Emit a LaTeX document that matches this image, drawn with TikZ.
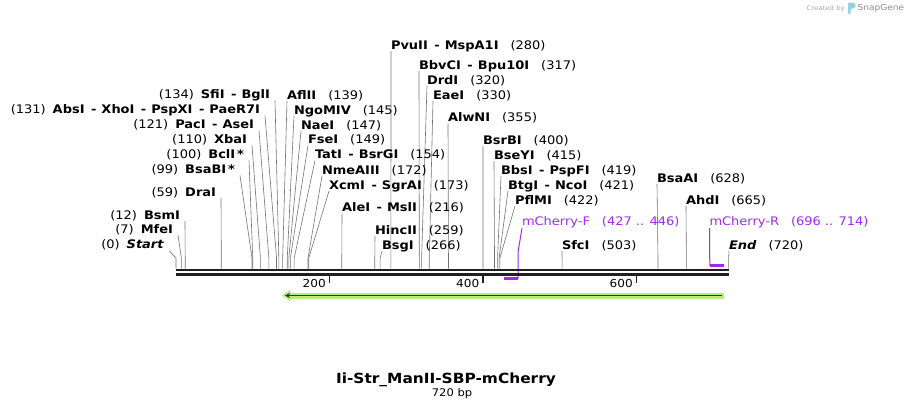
\documentclass[tikz,border=0pt]{standalone}
\usepackage{fontspec}
\setmainfont{DejaVu Sans}[FakeStretch=1.1]
\usetikzlibrary{arrows.meta,calc}
\definecolor{prim}{RGB}{160,40,240}
\definecolor{featgreen}{RGB}{180,238,125}
\definecolor{logoblue}{RGB}{150,205,225}
\newcommand\B[1]{\textbf{#1}}
\newcommand\dsh{\hspace{6.5pt}\textbf{-}\hspace{5pt}}
\newcommand\gr{\hspace{12pt}}
\newcommand\gl{\hspace{7pt}}
\newcommand\rsite[5]{%
  \node[lab,anchor=base west] (#1) at (#3,#4) {#5};
  \coordinate (#1k) at ({176+0.7675*#2},258);
  \coordinate (#1b) at ({176+0.7675*#2},268.6);
  \draw[cn] ([yshift=-2pt]#1.base west) -- (#1k) -- (#1b);
}
\newcommand\lsite[5]{%
  \node[lab,anchor=base east] (#1) at (#3,#4) {#5};
  \coordinate (#1k) at ({176+0.7675*#2},258);
  \coordinate (#1b) at ({176+0.7675*#2},268.6);
  \draw[cn] ([xshift=5pt,yshift=-2pt]#1.base east) -- (#1k) -- (#1b);
}
\begin{document}
\begin{tikzpicture}[x=1pt,y=-1pt,
  lab/.style={inner sep=0pt,outer sep=0pt,font=\fontsize{11.8}{13}\selectfont,text=black},
  cn/.style={draw=black!55,line width=0.6pt},
  bb/.style={draw=black!88,line width=2.4pt},
  tickmark/.style={draw=black!88,line width=1.8pt},
  primline/.style={draw=prim,line width=1pt},
  primbar/.style={draw=prim,line width=2.2pt}]
\useasboundingbox (0,0) rectangle (906,408);

% right-hand labels
\rsite{pvu}{280}{391}{49}{\B{PvuII}\dsh\B{MspA1I}\gr(280)}
\rsite{bbv}{317}{419}{69}{\B{BbvCI}\dsh\B{Bpu10I}\gr(317)}
\rsite{drd}{320}{427}{84}{\B{DrdI}\gr(320)}
\rsite{eae}{330}{433}{99}{\B{EaeI}\gr(330)}
\rsite{afl}{139}{287}{99}{\B{AflII}\gr(139)}
\rsite{ngo}{145}{294}{114}{\B{NgoMIV}\gr(145)}
\rsite{alw}{355}{448}{121.5}{\B{AlwNI}\gr(355)}
\rsite{nae}{147}{301}{129}{\B{NaeI}\gr(147)}
\rsite{fse}{149}{308}{143.5}{\B{FseI}\gr(149)}
\rsite{bsrb}{400}{483}{144}{\B{BsrBI}\gr(400)}
\rsite{tat}{154}{315}{158.5}{\B{TatI}\dsh\B{BsrGI}\gr(154)}
\rsite{bsey}{415}{494}{159}{\B{BseYI}\gr(415)}
\rsite{nme}{172}{322}{174}{\B{NmeAIII}\gr(172)}
\rsite{bbs}{419}{501}{174}{\B{BbsI}\dsh\B{PspFI}\gr(419)}
\rsite{xcm}{173}{329}{189}{\B{XcmI}\dsh\B{SgrAI}\gr(173)}
\rsite{btg}{421}{508}{189}{\B{BtgI}\dsh\B{NcoI}\gr(421)}
\rsite{bsaa}{628}{657}{182}{\B{BsaAI}\gr(628)}
\rsite{pfl}{422}{515}{204}{\B{PflMI}\gr(422)}
\rsite{ahd}{665}{686}{204}{\B{AhdI}\gr(665)}
\rsite{ale}{216}{342}{211.5}{\B{AleI}\dsh\B{MslI}\gr(216)}
\rsite{hinc}{259}{375}{234}{\B{HincII}\gr(259)}
\rsite{bsg}{266}{382}{249}{\B{BsgI}\gr(266)}
\rsite{sfc}{503}{562}{249}{\B{SfcI}\gr(503)}
\rsite{endl}{720}{729}{249}{\textbf{\textit{End}}\gr(720)}

% left-hand labels
\lsite{sfi}{134}{270}{98.5}{(134)\gl\B{SfiI}\dsh\B{BglI}}
\lsite{abs}{131}{260}{113.5}{(131)\gl\B{AbsI}\dsh\B{XhoI}\dsh\B{PspXI}\dsh\B{PaeR7I}}
\lsite{pac}{121}{254}{128.5}{(121)\gl\B{PacI}\dsh\B{AseI}}
\lsite{xba}{110}{247}{143.5}{(110)\gl\B{XbaI}}
\lsite{bcl}{100}{244}{158.5}{(100)\gl\B{BclI\,*}}
\lsite{bsab}{99}{235}{173.5}{(99)\gl\B{BsaBI\,*}}
\lsite{dra}{59}{216}{196}{(59)\gl\B{DraI}}
\lsite{bsm}{12}{180}{219}{(12)\gl\B{BsmI}}
\lsite{mfe}{7}{173}{233}{(7)\gl\B{MfeI}}
\lsite{start}{0}{164}{248.5}{(0)\gl\textbf{\textit{Start}}}

% primers
\node[lab,anchor=base west,text=prim] (mchf) at (522,225) {mCherry-F\gr(427 .. 446)};
\coordinate (mchfk) at (518.2,251);
\coordinate (mchfb) at (518.2,278.5);
\coordinate (mchfa) at (503.7,278.5);
\draw[primline] ([yshift=-3pt]mchf.base west) -- (mchfk) -- (mchfb);
\draw[primbar] (mchfa) -- (mchfb);

\node[lab,anchor=base west,text=prim] (mchr) at (709.5,225) {mCherry-R\gr(696 .. 714)};
\coordinate (mchrb) at (709.8,265.5);
\coordinate (mchre) at (723.6,265.5);
\draw[primline] ([yshift=-3pt]mchr.base west) -- (mchrb);
\draw[primbar] (mchrb) -- (mchre);

% backbone
\coordinate (bbL1) at (176,270);   \coordinate (bbR1) at (728.6,270);
\coordinate (bbL2) at (176,274.4); \coordinate (bbR2) at (728.6,274.4);
\draw[bb] (bbL1) -- (bbR1);
\draw[bb] (bbL2) -- (bbR2);

% ticks
\foreach \v in {200,400,600}{
  \draw[tickmark] ({176+0.7675*\v},275) -- ++(0,8);
  \node[inner sep=0pt,anchor=base east,font=\fontsize{11}{13}\selectfont] at ({176+0.7675*\v-3.5},287) {\v};
}

% feature arrow
\coordinate (fR) at (724,295.5);
\coordinate (fL) at (290,295.5);
\coordinate (fT) at (282,295.5);
\draw[featgreen,line width=6pt] (fR) -- (fL);
\fill[featgreen] (290,290) -- (fT) -- (290,301) -- cycle;
\draw[black!80,line width=1.6pt,-{Stealth[length=5pt,width=5pt]}] (722,295.5) -- (285,295.5);

% title
\node[inner sep=0pt,anchor=base,font=\fontsize{14}{16}\selectfont\bfseries] (title) at (446,383) {Ii-Str\_ManII-SBP-mCherry};
\node[inner sep=0pt,anchor=base,font=\fontsize{10.5}{13}\selectfont] (len) at (452,396) {720 bp};

% watermark
\node[inner sep=0pt,anchor=base east,font=\fontsize{6.3}{8}\selectfont,text=black!35] (cby) at (845,10.5) {Created by};
\fill[logoblue,rounded corners=1pt] (848,2.5) -- (854,2.5) -- (856,5.5) -- (854,8.5) -- (850.5,8.5) -- (850.5,14) -- (848,14) -- cycle;
\node[inner sep=0pt,anchor=base west,font=\fontsize{8.2}{10}\selectfont,text=black!45] (sg) at (857.5,10.5) {SnapGene};
\end{tikzpicture}
\end{document}
